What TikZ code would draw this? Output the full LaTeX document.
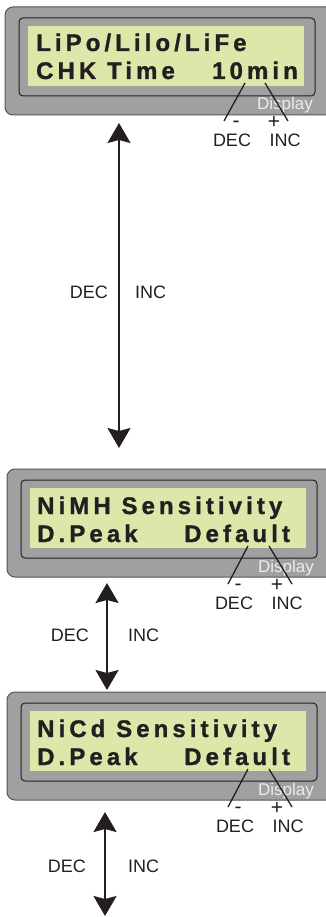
\documentclass[tikz,border=0pt]{standalone}
\usepackage{fontspec}
\setmainfont{Liberation Sans}
\newfontfamily\lcdfont[LetterSpace=17, BoldFeatures={FakeBold=1.2}]{Liberation Sans}
\usepackage{tikz}
\usetikzlibrary{arrows.meta}
\definecolor{boxgray}{RGB}{160, 160, 160}
\definecolor{boxedge}{RGB}{85, 85, 85}
\definecolor{lcdgreen}{RGB}{222, 231, 170}
\definecolor{tagwhite}{RGB}{236, 236, 236}
\definecolor{ink}{RGB}{35, 31, 32}

\begin{document}
\begin{tikzpicture}[x = 1pt, y = -1pt,
	box/.style = {draw = boxedge, fill = boxgray, line width = 1pt, rounded corners = 8pt, minimum width = 334pt, minimum height = 108pt, inner sep = 0pt},
	frame/.style = {draw = ink, fill = boxgray, line width = 1pt, rounded corners = 4pt, minimum width = 296pt, minimum height = 78pt, inner sep = 0pt},
	lcd/.style = {fill = lcdgreen, minimum width = 276pt, minimum height = 60pt, inner sep = 0pt},
	lcdtxt/.style = {font = \lcdfont\bfseries\fontsize{24}{24}\selectfont, text = ink, anchor = base west, inner sep = 0pt},
	tag/.style = {font = \fontsize{17}{17}\selectfont, text = tagwhite, anchor = base east, inner sep = 0pt},
	lbl/.style = {font = \fontsize{18}{18}\selectfont, text = ink, inner sep = 0pt},
	sign/.style = {font = \fontsize{21}{21}\selectfont, text = ink, inner sep = 0pt, anchor = base},
	lead/.style = {draw = ink, line width = 1.3pt},
	move/.style = {{Stealth[length = 20pt, width = 23pt, inset = 3pt]}-{Stealth[length = 20pt, width = 23pt, inset = 3pt]}, draw = ink, line width = 2pt}]
			\useasboundingbox (0,0) rectangle (325,917);

			% first display
			\node (box1) at (172,61) [box] {};
			\node (frame1) at (167,57) [frame] {};
			\node (lcd1) at (166,56) [lcd] {};
			\node (l1a) at (36,51) [lcdtxt] {LiPo/Lilo/LiFe};
			\node (l1b) at (36,79) [lcdtxt] {CHK Time};
			\node (l1c) at (212,79) [lcdtxt] {10min};
			\node (tag1) at (313,110) [tag] {Display};
			\node (m1) at (236,128) [sign] {-};
			\node (p1) at (274,129) [sign] {+};
			\node (dec1) at (232,147) [lbl, anchor = base] {DEC};
			\node (inc1) at (285,147) [lbl, anchor = base] {INC};
			\coordinate (d1top) at (245,83);
			\coordinate (d1bot) at (224,121);
			\coordinate (i1top) at (265,83);
			\coordinate (i1bot) at (288,121);
			\draw[lead] (d1top) -- (d1bot);
			\draw[lead] (i1top) -- (i1bot);

			% second display
			\node (box2) at (174,523) [box] {};
			\node (frame2) at (169,519) [frame] {};
			\node (lcd2) at (168,518) [lcd] {};
			\node (l2a) at (37,514) [lcdtxt] {NiMH Sensitivity};
			\node (l2b) at (37,542) [lcdtxt] {D.Peak};
			\node (l2c) at (184,542) [lcdtxt] {Default};
			\node (tag2) at (314,572) [tag] {Display};
			\node (m2) at (238,590) [sign] {-};
			\node (p2) at (277,591) [sign] {+};
			\node (dec2) at (234,609) [lbl, anchor = base] {DEC};
			\node (inc2) at (287,609) [lbl, anchor = base] {INC};
			\coordinate (d2top) at (248,546);
			\coordinate (d2bot) at (228,584);
			\coordinate (i2top) at (269,546);
			\coordinate (i2bot) at (292,584);
			\draw[lead] (d2top) -- (d2bot);
			\draw[lead] (i2top) -- (i2bot);

			% third display
			\node (box3) at (174,746) [box] {};
			\node (frame3) at (169,742) [frame] {};
			\node (lcd3) at (168,741) [lcd] {};
			\node (l3a) at (37,737) [lcdtxt] {NiCd Sensitivity};
			\node (l3b) at (37,765) [lcdtxt] {D.Peak};
			\node (l3c) at (184,765) [lcdtxt] {Default};
			\node (tag3) at (314,795) [tag] {Display};
			\node (m3) at (238,813) [sign] {-};
			\node (p3) at (277,814) [sign] {+};
			\node (dec3) at (235,832) [lbl, anchor = base] {DEC};
			\node (inc3) at (288,832) [lbl, anchor = base] {INC};
			\coordinate (d3top) at (248,769);
			\coordinate (d3bot) at (228,807);
			\coordinate (i3top) at (269,769);
			\coordinate (i3bot) at (292,807);
			\draw[lead] (d3top) -- (d3bot);
			\draw[lead] (i3top) -- (i3bot);

			% arrows between the displays
			\coordinate (a1) at (119,123);
			\coordinate (b1) at (119,448);
			\coordinate (a2) at (107,583);
			\coordinate (b2) at (107,690);
			\coordinate (a3) at (105,812);
			\coordinate (b3) at (105,916);
			\draw[move] (a1) -- (b1);
			\draw[move] (a2) -- (b2);
			\draw[move] (a3) -- (b3);
			\node (dl1) at (108,298) [lbl, anchor = base east] {DEC};
			\node (il1) at (135,298) [lbl, anchor = base west] {INC};
			\node (dl2) at (89,641) [lbl, anchor = base east] {DEC};
			\node (il2) at (128,641) [lbl, anchor = base west] {INC};
			\node (dl3) at (86,872) [lbl, anchor = base east] {DEC};
			\node (il3) at (128,872) [lbl, anchor = base west] {INC};
\end{tikzpicture}
\end{document}
